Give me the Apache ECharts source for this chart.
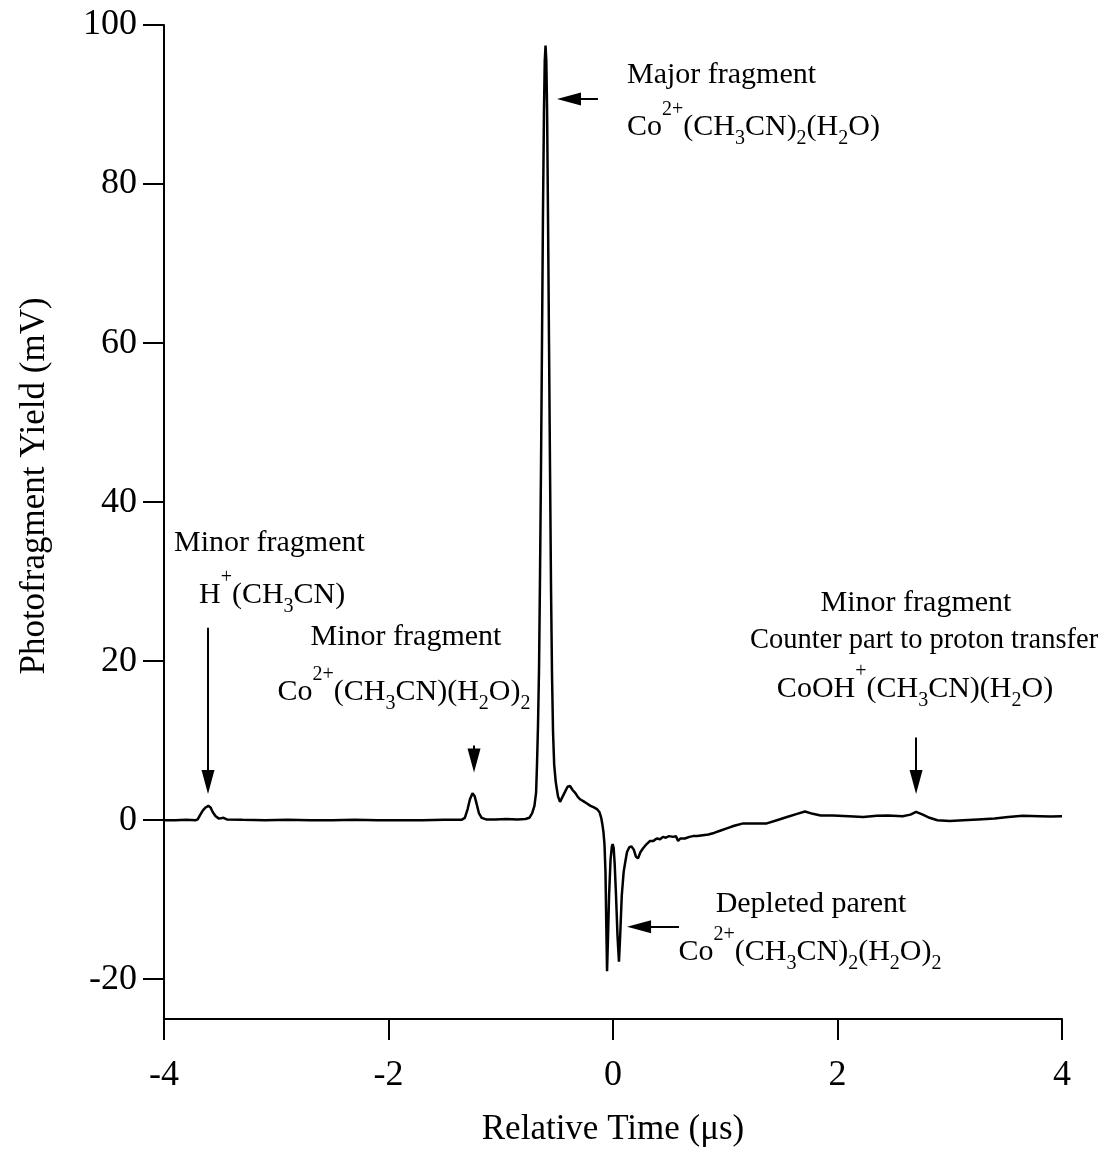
<!DOCTYPE html>
<html>
<head>
<meta charset="utf-8">
<script src="https://cdn.jsdelivr.net/npm/echarts@6/dist/echarts.min.js"></script>
<style>html,body{margin:0;padding:0;background:#fff}#c{width:1111px;height:1152px}</style>
</head>
<body>
<div id="c"></div>
<script>
// ---- data ----
const times = [
 -4.000,-3.900,-3.800,-3.720,-3.700,-3.680,-3.655,-3.630,-3.605,-3.585,-3.565,-3.540,-3.510,-3.470,-3.440,-3.300,-3.100,-2.900,-2.700,-2.500,
 -2.300,-2.100,-1.900,-1.700,-1.500,-1.350,-1.320,-1.295,-1.275,-1.252,-1.232,-1.212,-1.195,-1.170,-1.130,-1.050,-0.950,-0.850,-0.780,-0.745,
 -0.720,-0.700,-0.685,-0.677,-0.668,-0.659,-0.650,-0.641,-0.632,-0.624,-0.615,-0.608,-0.601,-0.594,-0.587,-0.579,-0.570,-0.561,-0.552,-0.543,
 -0.534,-0.524,-0.510,-0.490,-0.472,-0.455,-0.430,-0.405,-0.383,-0.360,-0.335,-0.312,-0.290,-0.265,-0.232,-0.200,-0.170,-0.143,-0.120,-0.105,
 -0.095,-0.085,-0.076,-0.067,-0.060,-0.053,-0.046,-0.035,-0.022,-0.010,-0.003,0.006,0.015,0.027,0.040,0.053,0.064,0.078,0.095,0.110,
 0.125,0.145,0.165,0.185,0.205,0.223,0.245,0.270,0.300,0.330,0.360,0.390,0.420,0.445,0.470,0.500,0.535,0.560,0.580,0.600,
 0.640,0.680,0.713,0.750,0.800,0.850,0.900,0.960,1.020,1.080,1.160,1.250,1.370,1.460,1.550,1.640,1.710,1.780,1.850,1.960,
 2.100,2.230,2.350,2.450,2.580,2.650,2.700,2.760,2.820,2.890,3.000,3.120,3.250,3.400,3.520,3.650,3.800,3.900,4.000
];
const yields = [
 0.0,0.0,0.05,0.0,0.1,0.6,1.2,1.6,1.8,1.6,1.0,0.5,0.2,0.3,0.1,0.05,0.0,0.05,0.0,0.0,
 0.05,0.0,0.0,0.0,0.05,0.05,0.3,1.4,2.6,3.4,3.0,1.9,0.9,0.3,0.1,0.1,0.15,0.1,0.15,0.3,
 0.9,1.8,3.5,7.0,12.0,19.0,31.0,45.0,61.0,76.0,89.0,95.5,97.4,95.5,89.0,76.0,60.0,44.0,29.0,18.0,
 11.0,7.0,4.8,3.0,2.3,2.4,3.5,4.2,4.3,3.8,3.4,2.9,2.6,2.4,2.1,1.8,1.6,1.4,1.0,0.3,
 -0.5,-1.5,-3.0,-6.5,-13.0,-19.0,-15.5,-9.5,-5.0,-3.3,-3.0,-3.5,-5.5,-9.5,-14.5,-17.8,-14.5,-9.5,-6.5,-5.2,
 -4.0,-3.4,-3.3,-3.7,-4.6,-4.8,-4.0,-3.5,-3.0,-2.6,-2.6,-2.3,-2.4,-2.1,-2.2,-2.0,-2.1,-2.0,-2.6,-2.3,
 -2.3,-2.1,-2.0,-2.0,-1.9,-1.8,-1.6,-1.3,-1.0,-0.7,-0.4,-0.4,-0.4,0.0,0.4,0.8,1.1,0.8,0.6,0.6,
 0.5,0.4,0.55,0.6,0.5,0.7,1.05,0.7,0.3,0.0,-0.1,0.0,0.1,0.2,0.4,0.55,0.5,0.45,0.5
];
const yTickValues = [-20, 0, 20, 40, 60, 80, 100];
const xTickInterval = 2;
const xTitle = 'Relative Time (\u03bcs)';
const yTitle = 'Photofragment Yield (mV)';
// arrows: [fromX, fromY, toX, toY] in data units
const arrows = [
  [-3.608, 24.2, -3.608, 4.8],
  [-1.238, 9.4, -1.238, 7.5],
  [2.700, 10.4, 2.700, 4.8],
  [-0.134, 90.7, -0.392, 90.7],
  [0.588, -13.4, 0.232, -13.4]
];

const FONT = '"Liberation Serif", "DejaVu Serif", serif';
const pairs = times.map((t, i) => [t, yields[i]]);

const chart = echarts.init(document.getElementById('c'), null, {renderer: 'canvas'});

function makeRich(af) {
  const sf = Math.round(af * 0.65), lh = 55;
  return {
    n:   {fontFamily: FONT, fontSize: af, fill: '#000', lineHeight: lh, verticalAlign: 'middle'},
    sup: {fontFamily: FONT, fontSize: sf, fill: '#000', lineHeight: lh, verticalAlign: 'top'},
    sub: {fontFamily: FONT, fontSize: sf, fill: '#000', lineHeight: lh, verticalAlign: 'bottom', padding: [0, 0, 6, 0]}
  };
}
function ann(x, y, text, align, af) {
  af = af || 30;
  return {
    type: 'text', x: x, y: y, silent: true, z: 10,
    style: {text: text, align: align, verticalAlign: 'middle', fontFamily: FONT, fontSize: af, fill: '#000', rich: makeRich(af)}
  };
}

const option = {
  animation: false,
  backgroundColor: '#fff',
  grid: {left: 164, right: 49, top: 25, bottom: 132, containLabel: false},
  xAxis: {
    type: 'value', min: -4, max: 4, interval: xTickInterval,
    name: xTitle, nameLocation: 'middle', nameGap: 93,
    nameTextStyle: {fontFamily: FONT, fontSize: 35, color: '#000'},
    axisLine: {onZero: false, lineStyle: {color: '#000', width: 2}},
    axisTick: {show: true, inside: false, length: 21, lineStyle: {color: '#000', width: 2}},
    axisLabel: {fontFamily: FONT, fontSize: 36, color: '#000', margin: 39},
    splitLine: {show: false}
  },
  yAxis: {
    type: 'value', min: -25, max: 100,
    axisLine: {onZero: false, lineStyle: {color: '#000', width: 2}},
    axisTick: {show: true, inside: false, length: 21, customValues: yTickValues, lineStyle: {color: '#000', width: 2}},
    axisLabel: {fontFamily: FONT, fontSize: 36, color: '#000', margin: 27, customValues: yTickValues},
    splitLine: {show: false}
  },
  series: [{
    type: 'line',
    data: pairs,
    showSymbol: false,
    symbol: 'none',
    silent: true,
    lineStyle: {color: '#000', width: 2.5},
    markLine: {
      silent: true,
      animation: false,
      symbol: ['none', 'triangle'],
      label: {show: false},
      lineStyle: {color: '#000', width: 2, type: 'solid'},
      emphasis: {disabled: true},
      data: arrows.map(a => [
        {coord: [a[0], a[1]], symbol: 'none'},
        {coord: [a[2], a[3]], symbol: 'triangle', symbolSize: [13, 24]}
      ])
    }
  }],
  graphic: [
    {
      type: 'text', x: 35, y: 486, rotation: Math.PI / 2, silent: true,
      style: {text: yTitle, align: 'center', verticalAlign: 'middle', fontFamily: FONT, fontSize: 35, fill: '#000'}
    },
    ann(627, 75, '{n|Major fragment}', 'left'),
    ann(627, 127, '{n|Co}{sup|2+}{n|(CH}{sub|3}{n|CN)}{sub|2}{n|(H}{sub|2}{n|O)}', 'left'),
    ann(174, 543, '{n|Minor fragment}', 'left'),
    ann(199, 595, '{n|H}{sup|+}{n|(CH}{sub|3}{n|CN)}', 'left'),
    ann(406, 637, '{n|Minor fragment}', 'center'),
    ann(404, 692, '{n|Co}{sup|2+}{n|(CH}{sub|3}{n|CN)(H}{sub|2}{n|O)}{sub|2}', 'center'),
    ann(916, 603, '{n|Minor fragment}', 'center'),
    ann(924, 641, '{n|Counter part to proton transfer}', 'center', 28.5),
    ann(915, 689, '{n|CoOH}{sup|+}{n|(CH}{sub|3}{n|CN)(H}{sub|2}{n|O)}', 'center'),
    ann(811, 904, '{n|Depleted parent}', 'center'),
    ann(810, 952, '{n|Co}{sup|2+}{n|(CH}{sub|3}{n|CN)}{sub|2}{n|(H}{sub|2}{n|O)}{sub|2}', 'center')
  ]
};
chart.setOption(option);
</script>
</body>
</html>
